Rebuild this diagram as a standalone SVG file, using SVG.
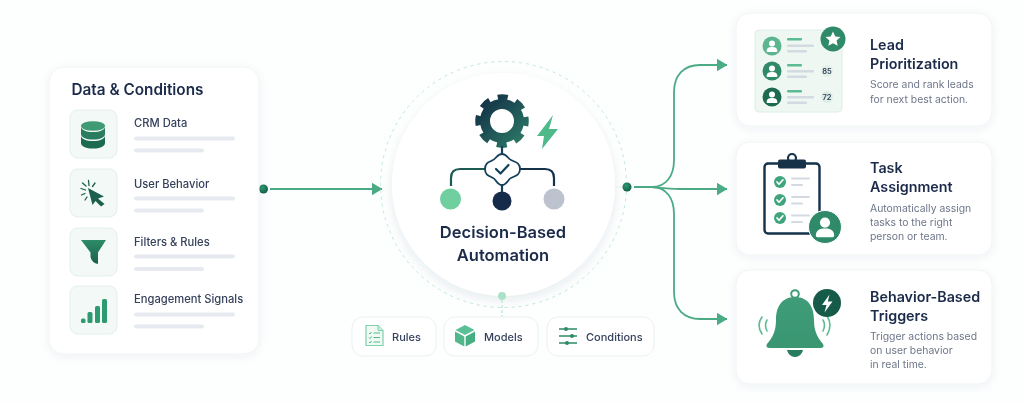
<svg xmlns="http://www.w3.org/2000/svg" xmlns:xlink="http://www.w3.org/1999/xlink" width="1024" height="403" viewBox="0 0 1024 403">
<style>
text{font-family:Inter,"Liberation Sans",sans-serif}
.card{fill:#fff;stroke:#f0f3f5;stroke-width:1;filter:url(#sh)}
.tile{fill:#f3f9f6;stroke:#e3efe9;stroke-width:1}
.chip{fill:#fff;stroke:#ebf0f1;stroke-width:1}
.bar{fill:#e6eaf0}
.h{font-size:15.300px;font-weight:600;fill:#1b2a4a}
.h2{font-size:14.300px;font-weight:600;fill:#1b2a4a}
.lb{font-size:11.200px;font-weight:500;fill:#36415c}
.sub{font-size:10.400px;fill:#6d7689}
.cl{font-size:11px;font-weight:500;fill:#36415c}
.wire{fill:none;stroke:#4bab84;stroke-width:1.800}
.pt{fill:#fff}
.mini{fill:#d3dae2}
.gl{fill:#5bbb92}
</style>
<defs>
<filter id="sh" x="-20%" y="-20%" width="140%" height="140%"><feDropShadow dx="0" dy="2" stdDeviation="5" flood-color="#22345a" flood-opacity="0.06"/></filter>
<filter id="shc" x="-20%" y="-20%" width="140%" height="140%"><feDropShadow dx="0" dy="4" stdDeviation="5" flood-color="#22345a" flood-opacity="0.09"/></filter>
<filter id="soft" x="-2%" y="-2%" width="104%" height="104%"><feGaussianBlur stdDeviation="0.5"/></filter>
<linearGradient id="gear" gradientUnits="userSpaceOnUse" x1="480" y1="98" x2="525" y2="145"><stop offset="0" stop-color="#122c44"/><stop offset="1" stop-color="#2e7d68"/></linearGradient>
<linearGradient id="fun" x1="0" y1="0" x2="0" y2="1"><stop offset="0" stop-color="#2e8c68"/><stop offset="1" stop-color="#1c5f4c"/></linearGradient>
<linearGradient id="bell" x1="0" y1="0" x2="0" y2="1"><stop offset="0" stop-color="#3f9c78"/><stop offset="1" stop-color="#3a9672"/></linearGradient>
<radialGradient id="dot" cx=".4" cy=".35" r=".7"><stop offset="0" stop-color="#2f9a72"/><stop offset="1" stop-color="#135a46"/></radialGradient>
<marker id="ah" markerUnits="userSpaceOnUse" markerWidth="11" markerHeight="13" refX="10.500" refY="6.500" orient="auto"><path d="M0 0L11 6.500L0 13Z" fill="#4bab84"/></marker>
<g id="person"><circle cx="0" cy="-2.600" r="3"/><path d="M-5.400 5.200C-5.400 1.800-3 .9 0 .9S5.400 1.800 5.400 5.200Q5.400 6 4.400 6H-4.400Q-5.400 6-5.400 5.200Z"/></g>
<path id="tick" d="M-3 0L-1 2.200L3 -2.200" fill="none" stroke="#fff" stroke-width="1.700" stroke-linecap="round" stroke-linejoin="round"/>
</defs>
<rect width="1024" height="403" fill="#fdfefe"/>
<g filter="url(#soft)">
<g id="connectors">
<path class="wire" d="M270 189H382" marker-end="url(#ah)"/>
<path class="wire" d="M634 187H652C666 187 674 176 674 160V92C674 75 684 65 700 65H727" marker-end="url(#ah)"/>
<path class="wire" d="M652 187C662 188 668 189 680 189H727" marker-end="url(#ah)"/>
<path class="wire" d="M652 187C666 187 674 198 674 214V292C674 309 684 319 700 319H727" marker-end="url(#ah)"/>
<circle cx="263.500" cy="189" r="4.500" fill="url(#dot)"/>
</g>
<g id="data-conditions">
<rect class="card" x="49" y="67" width="210" height="287" rx="15"/>
<text class="h" x="71.500" y="95">Data &amp; Conditions</text>
<g id="crm-data">
<rect class="tile" x="70" y="110" width="47" height="48" rx="8"/>
<path d="M81 135.500C81 139 86 141 93 141S105 139 105 135.500V143C105 146.500 100 148.500 93 148.500S81 146.500 81 143Z" fill="#1f6a50"/>
<path d="M81 126.500C81 130 86 132 93 132S105 130 105 126.500V134C105 137.500 100 139.500 93 139.500S81 137.500 81 134Z" fill="#2a7c5e"/>
<ellipse cx="93" cy="126" rx="12" ry="4.800" fill="#3f9b75"/>
<text class="lb" x="134" y="127">CRM Data</text>
<rect class="bar" x="134" y="136.500" width="101" height="4" rx="2"/><rect class="bar" x="134" y="148.500" width="70" height="4" rx="2"/>
</g>
<g id="user-behavior">
<rect class="tile" x="70" y="169" width="47" height="48" rx="8"/>
<path d="M88 188L104 196.500L98 198.500L104.500 204L101 206.500L95.500 201L92.500 205Z" fill="#1d5f4d"/>
<path d="M81 188.500L85.500 190M81.500 195L85 193.500M85 200L87 197M88.500 180.500L89 185.500M95 183L92.500 186.500M82.500 183L86 186" stroke="#1d5f4d" stroke-width="1.300" stroke-linecap="round"/>
<text class="lb" x="134" y="188">User Behavior</text>
<rect class="bar" x="134" y="196.500" width="101" height="4" rx="2"/><rect class="bar" x="134" y="208.500" width="70" height="4" rx="2"/>
</g>
<g id="filters-rules">
<rect class="tile" x="70" y="228" width="47" height="48" rx="8"/>
<path d="M81 240H106L98 252.500V264Q92 263 90.500 257V252.500Z" fill="url(#fun)"/>
<text class="lb" x="134" y="246">Filters &amp; Rules</text>
<rect class="bar" x="134" y="254.500" width="101" height="4" rx="2"/><rect class="bar" x="134" y="267" width="70" height="4" rx="2"/>
</g>
<g id="engagement-signals">
<rect class="tile" x="70" y="286" width="47" height="48" rx="8"/>
<g fill="#2f9a70"><rect x="81" y="318.500" width="4.500" height="4.500" rx="1.500"/><rect x="87.500" y="312" width="5" height="11" rx="1.500"/><rect x="95" y="306" width="5" height="17" rx="1.500"/><rect x="102" y="299" width="5" height="24" rx="1.500"/></g>
<text class="lb" x="134" y="303">Engagement Signals</text>
<rect class="bar" x="134" y="312.500" width="101" height="4" rx="2"/><rect class="bar" x="134" y="324.500" width="70" height="4" rx="2"/>
</g>
</g>
<g id="decision-automation">
<circle cx="503.500" cy="184.500" r="123" fill="none" stroke="#bfe8d6" stroke-width="1" stroke-dasharray="3 4"/>
<circle cx="503.500" cy="184.500" r="111.500" fill="#fff" filter="url(#shc)"/>
<g>
<circle cx="502" cy="121" r="17" fill="none" stroke="url(#gear)" stroke-width="10"/>
<circle cx="502" cy="121" r="23.500" fill="none" stroke="url(#gear)" stroke-width="6.500" stroke-dasharray="10 8.456" stroke-dashoffset="5"/>
</g>
<path d="M553 115L537 136H544L542 149L558 129H549Z" fill="#4fb98a"/>
<path d="M485 169H460Q451 169 451 178V186" fill="none" stroke="#1c5a52" stroke-width="2.200"/>
<path d="M520 169H545Q554 169 554 178V186" fill="none" stroke="#14324c" stroke-width="2.200"/>
<path d="M502 146V155M502 184V193" stroke="#14405a" stroke-width="2.200"/>
<path d="M502 154C507 154 508 159 511 160C514 162 520 162 520 169C520 176 514 176 511 178C508 179 507 185 502 185C497 185 496 179 493 178C490 176 485 176 485 169C485 162 490 162 493 160C496 159 497 154 502 154Z" fill="#fff" stroke="#14405a" stroke-width="1.800"/>
<path d="M496 169L500.500 173.500L508.500 165" fill="none" stroke="#14405a" stroke-width="2.200" stroke-linecap="round" stroke-linejoin="round"/>
<circle cx="450.500" cy="199" r="10.500" fill="#6fcf9f"/>
<circle cx="502" cy="201" r="9.500" fill="#12294a"/>
<circle cx="554" cy="199" r="10.500" fill="#bcc3cf"/>
<text x="503" y="238" text-anchor="middle" font-size="16.500" font-weight="600" fill="#1b2a4a">Decision-Based</text>
<text x="503" y="261" text-anchor="middle" font-size="16.500" font-weight="600" fill="#1b2a4a">Automation</text>
<circle cx="627" cy="187" r="4.500" fill="url(#dot)"/>
<path d="M615 187H622" stroke="#e6edf0" stroke-width="1"/>
<path d="M502 300V317" stroke="#a9e2c9" stroke-width="1" stroke-dasharray="3 2"/>
<circle cx="502" cy="296" r="4" fill="#a9e2c9"/>
</g>
<g id="rules">
<rect class="chip" x="352" y="317" width="84" height="39" rx="11"/>
<path d="M366 325.500H378L383 330.500V345.500H366Z" fill="#effaf5" stroke="#7fd0ad" stroke-width="1.200"/>
<path d="M378 325.500V330.500H383" fill="#cfeee0" stroke="#7fd0ad" stroke-width="1"/>
<path d="M369 333L370 334L371.500 332M369 337.500L370 338.500L371.500 336.500M369 342L370 343L371.500 341M373.500 333H380M373.500 337.500H380M373.500 342H380" fill="none" stroke="#55b88f" stroke-width="1"/>
<text class="cl" x="392" y="341">Rules</text>
</g>
<g id="models">
<rect class="chip" x="444" y="317" width="94" height="39" rx="11"/>
<path d="M465 325L474.500 330L465 335L455.500 330Z" fill="#5cc096"/>
<path d="M455 331.500L464.300 336.500V346.500L455 341.500Z" fill="#52b78c"/>
<path d="M475 331.500V341.500L465.700 346.500V336.500Z" fill="#47ad83"/>
<text class="cl" x="484" y="341">Models</text>
</g>
<g id="conditions">
<rect class="chip" x="547" y="317" width="107" height="39" rx="11"/>
<path d="M559 329H577M559 336H577M559 343H577" stroke="#2f8a67" stroke-width="1.400"/>
<circle cx="566" cy="329" r="2" fill="#2f8a67"/><circle cx="572" cy="336" r="2" fill="#2f8a67"/><circle cx="567" cy="343" r="2" fill="#2f8a67"/>
<text class="cl" x="586" y="341">Conditions</text>
</g>
<g id="lead-prioritization">
<rect class="card" x="736" y="13" width="256" height="113" rx="14"/>
<rect x="755" y="30" width="87" height="82" rx="4" fill="#eff7f3" stroke="#deeee7" stroke-width="1"/>
<circle cx="772" cy="46" r="9.500" fill="#5bb58f"/><use xlink:href="#person" href="#person" x="772" y="46" class="pt"/>
<circle cx="772" cy="71" r="9.500" fill="#2f8a67"/><use xlink:href="#person" href="#person" x="772" y="71" class="pt"/>
<circle cx="772" cy="97" r="9.500" fill="#1f6a50"/><use xlink:href="#person" href="#person" x="772" y="97" class="pt"/>
<g class="gl"><rect x="787" y="38" width="15" height="2.500" rx="1"/><rect x="787" y="64" width="15" height="2.500" rx="1"/><rect x="787" y="90" width="15" height="2.500" rx="1"/></g>
<g class="mini"><rect x="787" y="44.500" width="27" height="2.500" rx="1"/><rect x="787" y="50" width="20" height="2.500" rx="1"/><rect x="787" y="70" width="27" height="2.500" rx="1"/><rect x="787" y="75.500" width="20" height="2.500" rx="1"/><rect x="787" y="96" width="27" height="2.500" rx="1"/><rect x="787" y="101.500" width="20" height="2.500" rx="1"/></g>
<circle cx="827" cy="71" r="6" fill="#e1efe9"/><circle cx="827" cy="97" r="6" fill="#dbeee6"/>
<text x="827" y="73.500" text-anchor="middle" font-size="7.500" font-weight="600" fill="#33405a">85</text>
<text x="827" y="99.500" text-anchor="middle" font-size="7.500" font-weight="600" fill="#33405a">72</text>
<circle cx="833" cy="39" r="12.500" fill="#2f8a67"/>
<path d="M833 31.500L835.300 36.400L840.500 37L836.600 40.600L837.700 45.800L833 43.200L828.300 45.800L829.400 40.600L825.500 37L830.700 36.400Z" fill="#fff"/>
<text class="h2" x="870" y="50">Lead</text><text class="h2" x="870" y="69">Prioritization</text>
<text class="sub" x="870" y="88">Score and rank leads</text><text class="sub" x="870" y="103">for next best action.</text>
</g>
<g id="task-assignment">
<rect class="card" x="736" y="142" width="256" height="113" rx="14"/>
<rect x="764.500" y="163.500" width="55" height="70" rx="3.500" fill="#fff" stroke="#14304a" stroke-width="2.400"/>
<circle cx="792" cy="158" r="4" fill="#fff" stroke="#14304a" stroke-width="2.200"/>
<rect x="778" y="159.500" width="28" height="9" rx="2" fill="#14304a"/>
<circle cx="780" cy="182" r="6" fill="#3fa57c"/><use xlink:href="#tick" href="#tick" x="780" y="182"/>
<circle cx="780" cy="200" r="6" fill="#3fa57c"/><use xlink:href="#tick" href="#tick" x="780" y="200"/>
<circle cx="780" cy="218" r="6" fill="#3fa57c"/><use xlink:href="#tick" href="#tick" x="780" y="218"/>
<g class="mini"><rect x="791" y="177.500" width="19" height="2" rx="1"/><rect x="791" y="184" width="12" height="2" rx="1"/><rect x="791" y="196" width="19" height="2" rx="1"/><rect x="791" y="202.500" width="12" height="2" rx="1"/><rect x="791" y="214.500" width="19" height="2" rx="1"/><rect x="791" y="221" width="12" height="2" rx="1"/></g>
<circle cx="825" cy="227" r="16.500" fill="#2f8a67" stroke="#fff" stroke-width="1"/>
<g class="pt" transform="translate(825 227) scale(1.700)"><use xlink:href="#person" href="#person"/></g>
<text class="h2" x="870" y="173">Task</text><text class="h2" x="870" y="192">Assignment</text>
<text class="sub" x="870" y="212">Automatically assign</text><text class="sub" x="870" y="226">tasks to the right</text><text class="sub" x="870" y="240">person or team.</text>
</g>
<g id="behavior-based-triggers">
<rect class="card" x="736" y="270" width="256" height="114" rx="14"/>
<circle cx="795" cy="294" r="3.800" fill="none" stroke="#3f9c78" stroke-width="2"/>
<path d="M795 297C781 297 776 308 776 320C776 332 772 338 767 344Q765 348 770 348H820Q825 348 823 344C818 338 814 332 814 320C814 308 809 297 795 297Z" fill="url(#bell)"/>
<path d="M787 350H803C802 354 799 357 795 357S788 354 787 350Z" fill="#2a7c5e"/>
<path d="M762 317Q756 325 762 334M767 320Q764 325 767 331M823 320Q826 325 823 331M827 316Q833 325 827 335" fill="none" stroke="#5bbb92" stroke-width="1.600" stroke-linecap="round"/>
<circle cx="827" cy="303" r="14" fill="#175a48"/>
<path d="M829.500 294.500L822 305H826.500L824.500 312.500L832.500 301.500H827.800Z" fill="#fff"/>
<text class="h2" x="870" y="302">Behavior-Based</text><text class="h2" x="870" y="321">Triggers</text>
<text class="sub" x="870" y="340">Trigger actions based</text><text class="sub" x="870" y="354">on user behavior</text><text class="sub" x="870" y="368">in real time.</text>
</g>
</g>
</svg>
